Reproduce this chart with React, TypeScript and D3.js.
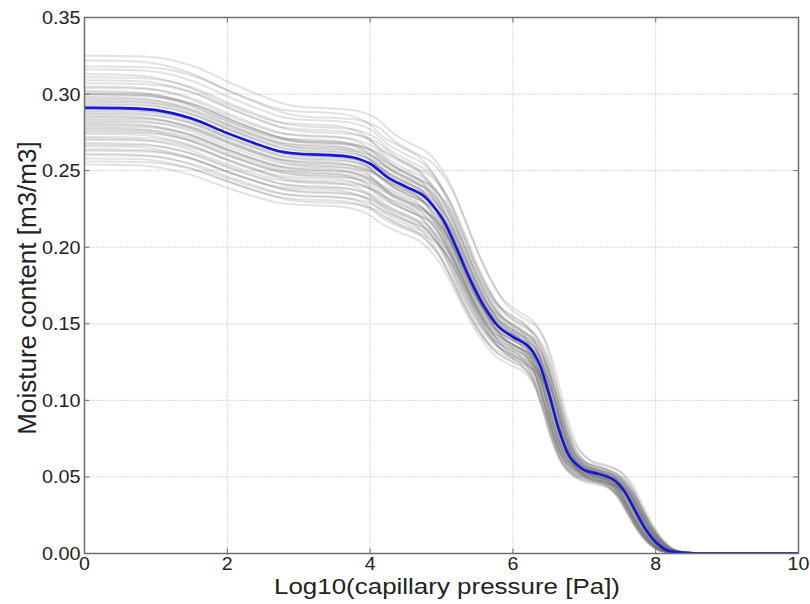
import React from "react";
import * as d3 from "d3";

// Mean (blue) retention curve
const meanX = [0, 0.5, 1.0, 1.5, 2.0, 2.5, 2.75, 3.0, 3.5, 3.75, 4.0, 4.25, 4.5, 4.75, 5.0, 5.2, 5.4, 5.6, 5.8, 6.0, 6.2, 6.35, 6.5, 6.65, 6.8, 7.0, 7.2, 7.4, 7.55, 7.7, 7.85, 8.0, 8.15, 8.35, 8.6, 9.0, 10];
const meanY = [0.291, 0.2908, 0.2895, 0.284, 0.2745, 0.266, 0.2625, 0.261, 0.26, 0.2587, 0.2545, 0.2455, 0.2395, 0.2335, 0.2195, 0.2005, 0.179, 0.161, 0.148, 0.1415, 0.136, 0.126, 0.105, 0.08, 0.063, 0.0545, 0.052, 0.0485, 0.0415, 0.029, 0.0165, 0.0075, 0.0023, 0.0006, 0, 0, 0];

// Ensemble members: moisture content at x = 0 and horizontal offset (read / estimated)
const memberLevel = [0.325, 0.322, 0.318, 0.316, 0.313, 0.311, 0.309, 0.307, 0.305, 0.304, 0.302, 0.301, 0.3, 0.3, 0.299, 0.298, 0.297, 0.296, 0.295, 0.294, 0.293, 0.292, 0.291, 0.29, 0.289, 0.288, 0.287, 0.286, 0.285, 0.284, 0.283, 0.282, 0.281, 0.28, 0.279, 0.278, 0.277, 0.276, 0.275, 0.274, 0.272, 0.271, 0.27, 0.268, 0.267, 0.266, 0.264, 0.263, 0.261, 0.26, 0.258, 0.256, 0.254];
const memberShift = [0.08, -0.05, 0.12, 0.02, -0.1, 0.06, -0.02, 0.1, -0.08, 0.04, -0.12, 0.0, 0.07, -0.04, 0.11, -0.09, 0.03, -0.06, 0.09, -0.01, 0.05, -0.11, 0.01, -0.07, 0.1, -0.03, 0.06, -0.1, 0.02, 0.08, -0.05, 0.12, -0.08, 0.0, 0.04, -0.12, 0.07, -0.02, 0.09, -0.06, 0.03, -0.09, 0.11, -0.04, 0.05, -0.1, 0.01, 0.08, -0.07, 0.06, -0.03, 0.1, -0.05];

const xTicks = [0, 2, 4, 6, 8, 10];
const yTicks = [0, 0.05, 0.1, 0.15, 0.2, 0.25, 0.3, 0.35];

const W = 810, H = 604;
const L = 84.5, R = 798.5, T = 17.5, B = 553.5;
const FONT = "'Liberation Sans', Arial, sans-serif";

export default function App() {
  const x = d3.scaleLinear().domain([0, 10]).range([L, R]);
  const y = d3.scaleLinear().domain([0, 0.35]).range([B, T]);
  const line = d3.line<[number, number]>().x(d => x(d[0])).y(d => y(d[1])).curve(d3.curveCatmullRom.alpha(0.5));
  const base = meanY[0];

  const members = memberLevel.map((lv, i) => {
    const s = memberShift[i];
    const pts: [number, number][] = meanX.map((mx, j) => [mx + s, (meanY[j] * lv) / base]);
    pts.unshift([-1, pts[0][1]]);
    pts.push([11, 0]);
    return line(pts) || "";
  });
  const meanPath = line(meanX.map((mx, j) => [mx, meanY[j]] as [number, number])) || "";

  return (
    <svg width={W} height={H} style={{ position: "absolute", left: 0, top: 0 }}>
      <rect width={W} height={H} fill="#fff" />
      <defs>
        <clipPath id="plot">
          <rect x={L} y={T} width={R - L} height={B - T} />
        </clipPath>
      </defs>
      {xTicks.map(t => (
        <line key={"gx" + t} x1={x(t)} x2={x(t)} y1={T} y2={B} stroke="#b0b0b0" strokeWidth={1} strokeDasharray="1 2" />
      ))}
      {yTicks.map(t => (
        <line key={"gy" + t} x1={L} x2={R} y1={y(t)} y2={y(t)} stroke="#b0b0b0" strokeWidth={1} strokeDasharray="1 2" />
      ))}
      <g clipPath="url(#plot)">
        {members.map((d, i) => (
          <path key={i} d={d} fill="none" stroke="#707070" strokeOpacity={0.2} strokeWidth={2} />
        ))}
        <path d={meanPath} fill="none" stroke="#1515e0" strokeWidth={2.6} />
      </g>
      <rect x={L} y={T} width={R - L} height={B - T} fill="none" stroke="#6e6e6e" strokeWidth={1.5} />
      {xTicks.map(t => (
        <g key={"tx" + t}>
          <line x1={x(t)} x2={x(t)} y1={B} y2={B - 5} stroke="#6e6e6e" />
          <line x1={x(t)} x2={x(t)} y1={T} y2={T + 5} stroke="#6e6e6e" />
          <text transform={`translate(${x(t)},569.5) scale(1.12,1)`} textAnchor="middle" fontFamily={FONT} fontSize={17.5} fill="#222">{t}</text>
        </g>
      ))}
      {yTicks.map(t => (
        <g key={"ty" + t}>
          <line x1={L} x2={L + 5} y1={y(t)} y2={y(t)} stroke="#6e6e6e" />
          <line x1={R} x2={R - 5} y1={y(t)} y2={y(t)} stroke="#6e6e6e" />
          <text transform={`translate(80.5,${y(t) + 6.5}) scale(1.1,1)`} textAnchor="end" fontFamily={FONT} fontSize={18} fill="#222">{t.toFixed(2)}</text>
        </g>
      ))}
      <text x={447} y={593.5} textAnchor="middle" textLength={346} lengthAdjust="spacingAndGlyphs" fontFamily={FONT} fontSize={22} fill="#222">Log10(capillary pressure [Pa])</text>
      <text transform={`translate(36,288) rotate(-90)`} textAnchor="middle" fontFamily={FONT} fontSize={26} fill="#222">Moisture content [m3/m3]</text>
    </svg>
  );
}
